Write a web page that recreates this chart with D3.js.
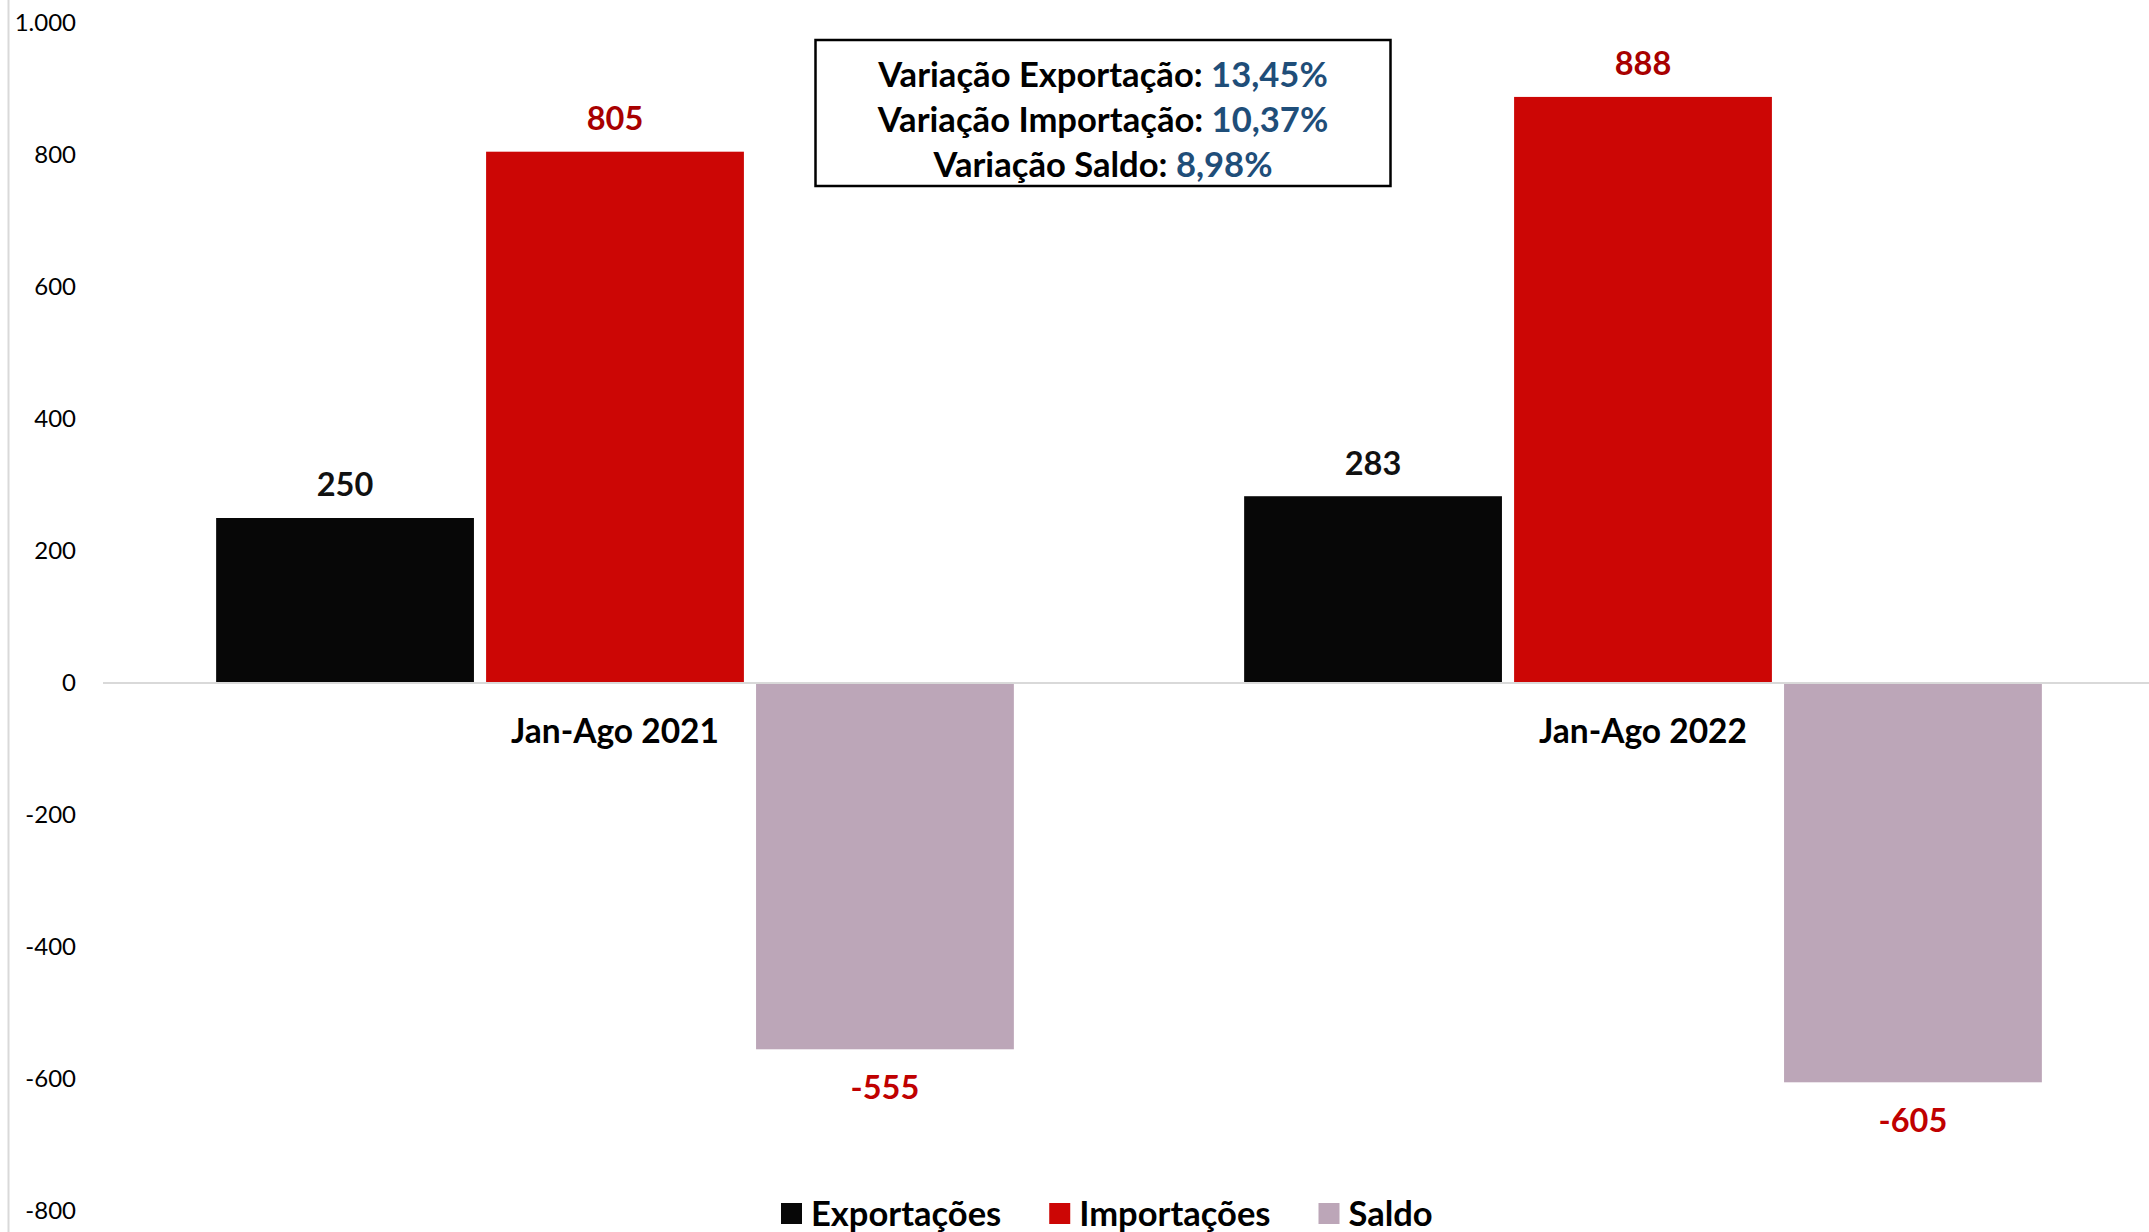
<!DOCTYPE html>
<html>
<head>
<meta charset="utf-8">
<script src="https://cdn.jsdelivr.net/npm/d3@7"></script>
<style>
  html, body { margin: 0; padding: 0; background: #fff; }
  svg { display: block; }
</style>
</head>
<body>
<div id="g"></div>
<script>
// dados
var categorias = ["Jan-Ago 2021", "Jan-Ago 2022"];
var series = ["Exportações", "Importações", "Saldo"];
var exportacoes = [250, 283];
var importacoes = [805, 888];
var saldo = [-555, -605];
var yTicks = [-800, -600, -400, -200, 0, 200, 400, 600, 800, 1000];
var variacaoNomes = ["Variação Exportação:", "Variação Importação:", "Variação Saldo:"];
var variacaoValores = ["13,45%", "10,37%", "8,98%"];

var WIDTH = 2149, HEIGHT = 1232;
var FONT = "Lato, 'Open Sans', sans-serif";
var barColors = ["#070707", "#cc0605", "#bca6b8"];
var labelColors = ["#111111", "#a80000", "#c00000"];

var valores = [exportacoes, importacoes, saldo];

var data = categorias.map(function(c, i) {
    return { cat: c, vals: series.map(function(s, j) { return { serie: s, idx: j, v: valores[j][i] }; }) };
});

var svg = d3.select("#g").append("svg")
    .attr("width", WIDTH)
    .attr("height", HEIGHT)
    .style("background", "#fff");

var y = d3.scaleLinear().domain([-800, 1000]).range([1211, 23]);

var x0 = d3.scaleBand().domain(categorias).range([101, 2157]).paddingInner(0.224).paddingOuter(0.112);
var x1 = d3.scaleBand().domain(series).range([0, x0.bandwidth()]).paddingInner(0.045);

var locale = d3.formatLocale({ decimal: ",", thousands: ".", grouping: [3], currency: ["R$", ""], minus: "-" });
var fmt = locale.format(",d");

/* ---- linha vertical esquerda ---- */
svg.append("line")
    .attr("x1", 8.5).attr("x2", 8.5)
    .attr("y1", 0).attr("y2", HEIGHT)
    .attr("stroke", "#d9d9d9").attr("stroke-width", 2);

/* ---- eixo y ---- */
var yAxis = svg.append("g")
    .attr("transform", "translate(86,0)")
    .call(d3.axisLeft(y).tickValues(yTicks).tickSize(0).tickPadding(10).tickFormat(fmt));
yAxis.select(".domain").remove();
yAxis.selectAll("text")
    .attr("font-family", FONT)
    .attr("font-size", 24)
    .attr("fill", "#000");

/* ---- barras ---- */
var groups = svg.selectAll(".grupo")
    .data(data)
    .enter().append("g")
    .attr("class", "grupo")
    .attr("transform", function(d) { return "translate(" + x0(d.cat) + ",0)"; });

groups.selectAll("rect")
    .data(function(d) { return d.vals; })
    .enter().append("rect")
    .attr("x", function(d) { return x1(d.serie); })
    .attr("y", function(d) { return y(Math.max(0, d.v)); })
    .attr("width", x1.bandwidth())
    .attr("height", function(d) { return Math.abs(y(d.v) - y(0)); })
    .attr("fill", function(d) { return barColors[d.idx]; });

/* ---- linha do zero ---- */
svg.append("line")
    .attr("x1", 103).attr("x2", WIDTH)
    .attr("y1", y(0)).attr("y2", y(0))
    .attr("stroke", "#d9d9d9").attr("stroke-width", 2);

/* ---- rotulos de dados ---- */
groups.selectAll(".rotulo")
    .data(function(d) { return d.vals; })
    .enter().append("text")
    .attr("class", "rotulo")
    .attr("x", function(d) { return x1(d.serie) + x1.bandwidth() / 2; })
    .attr("y", function(d) { return d.v >= 0 ? y(d.v) - 33 : y(d.v) + 38; })
    .attr("dy", "0.35em")
    .attr("text-anchor", "middle")
    .attr("font-family", FONT)
    .attr("font-weight", "bold")
    .attr("font-size", 32.5)
    .attr("fill", function(d) { return labelColors[d.idx]; })
    .text(function(d) { return fmt(d.v); });

/* ---- categorias ---- */
svg.selectAll(".categoria")
    .data(categorias)
    .enter().append("text")
    .attr("class", "categoria")
    .attr("x", function(d) { return x0(d) + x0.bandwidth() / 2; })
    .attr("y", y(0) + 48)
    .attr("dy", "0.35em")
    .attr("text-anchor", "middle")
    .attr("font-family", FONT)
    .attr("font-weight", "bold")
    .attr("font-size", 33.5)
    .attr("fill", "#000")
    .text(function(d) { return d; });

/* ---- caixa de variacao ---- */
svg.append("rect")
    .attr("x", 815.5).attr("y", 40)
    .attr("width", 575).attr("height", 146)
    .attr("fill", "#fff")
    .attr("stroke", "#000").attr("stroke-width", 2.5);

var linhas = svg.selectAll(".variacao")
    .data(variacaoNomes)
    .enter().append("text")
    .attr("class", "variacao")
    .attr("x", 1103)
    .attr("y", function(d, i) { return 74.5 + i * 45.3; })
    .attr("dy", "0.35em")
    .attr("text-anchor", "middle")
    .attr("font-family", FONT)
    .attr("font-weight", "bold")
    .attr("font-size", 34.6);
linhas.append("tspan").attr("fill", "#000").text(function(d) { return d + " "; });
linhas.append("tspan").attr("fill", "#1f4e79").text(function(d, i) { return variacaoValores[i]; });

/* ---- legenda ---- */
var legend = svg.append("g").attr("transform", "translate(0,1214)");
var lx = 781;
series.forEach(function(s, i) {
    legend.append("rect")
        .attr("x", lx).attr("y", -11)
        .attr("width", 21).attr("height", 21)
        .attr("fill", barColors[i]);
    var t = legend.append("text")
        .attr("x", lx + 30).attr("y", 0)
        .attr("dy", "0.35em")
        .attr("font-family", FONT)
        .attr("font-weight", "bold")
        .attr("font-size", 34.5)
        .attr("fill", "#000")
        .text(s);
    lx += 30 + t.node().getComputedTextLength() + 48;
});
</script>
</body>
</html>
